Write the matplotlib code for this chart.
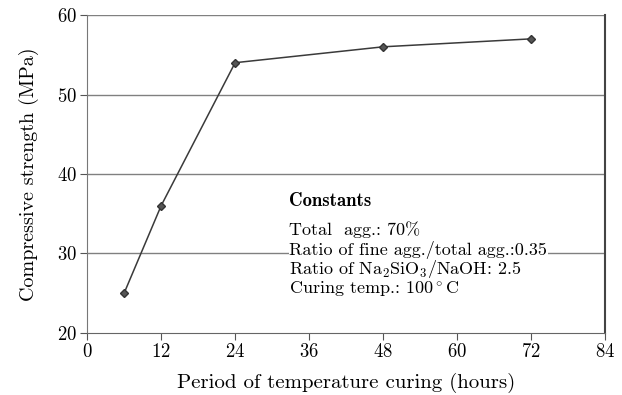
import matplotlib.pyplot as plt

plt.rcParams['font.family'] = 'serif'
plt.rcParams['font.serif'] = ['cmr10']
plt.rcParams['mathtext.fontset'] = 'cm'
plt.rcParams['axes.formatter.use_mathtext'] = True

hours = [6, 12, 24, 48, 72]
strength = [25, 36, 54, 56, 57]
x_ticks = [0, 12, 24, 36, 48, 60, 72, 84]
y_ticks = [20, 30, 40, 50, 60]

fig, ax = plt.subplots(figsize=(6.22, 3.95), dpi=100)
fig.subplots_adjust(left=0.14, right=0.973, top=0.962, bottom=0.157)

for y in y_ticks[1:]:
    ax.axhline(y, color='#808080', lw=1.0, zorder=1)

ax.plot(hours, strength, color='#3a3a3a', lw=1.1, marker='D', ms=4.2,
        mfc='#555555', mec='#333333', zorder=3)

ax.set_xlim(0, 84)
ax.set_ylim(20, 60)
ax.set_xticks(x_ticks)
ax.set_yticks(y_ticks)
ax.tick_params(labelsize=13.5, direction='out', length=5, color='#555555', pad=2)

ax.spines['top'].set_visible(False)
ax.spines['left'].set_color('#777777')
ax.spines['bottom'].set_color('#666666')
ax.spines['right'].set_color('#444444')
ax.spines['right'].set_linewidth(1.5)

ax.set_xlabel('Period of temperature curing (hours)', fontsize=15, labelpad=9)
ax.set_ylabel('Compressive strength (MPa)', fontsize=14.5, labelpad=13)

ax.text(32.8, 36.6, 'Constants', fontsize=13.5, family='cmb10', va='center', zorder=4)
lines = ['Total  agg.: 70%',
         'Ratio of fine agg./total agg.:0.35',
         r'Ratio of Na$_2$SiO$_3$/NaOH: 2.5',
         r'Curing temp.: 100$^\circ$C']
for i, t in enumerate(lines):
    ax.text(32.8, 33.0 - i * 2.5, t, fontsize=13, va='center', zorder=4,
            bbox=dict(facecolor='white', edgecolor='none', pad=0.2) if i == 1 else None)

plt.savefig('out.png', dpi=100)
